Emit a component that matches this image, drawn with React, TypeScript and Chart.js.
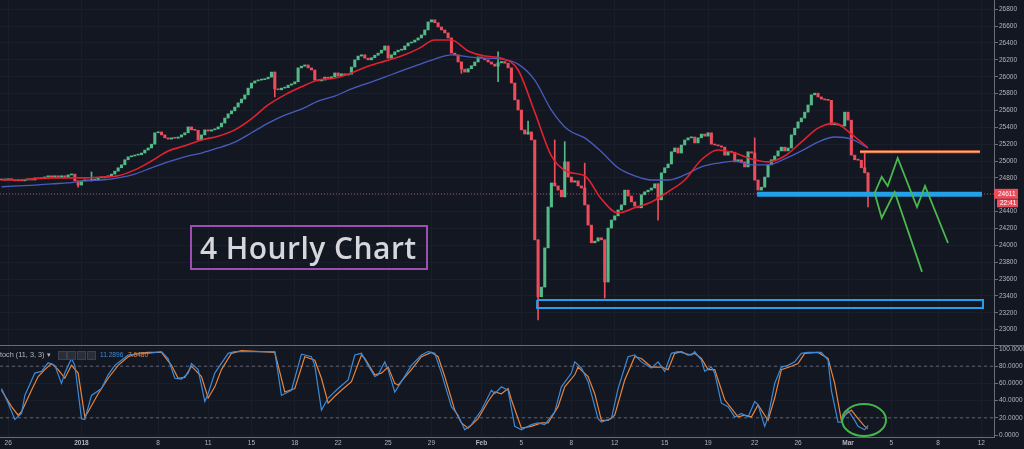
import React, { useEffect, useRef } from "react";
import { Chart, registerables } from "chart.js";

Chart.register(...registerables);

// ---------- style constants ----------
const BG = "#131722";
const GRID = "#1a1e2a";
const AXIS = "#6a6d78";
const TEXT = "#b2b5be";
const UP = "#53b987";
const DOWN = "#eb4d5c";
const FONT = '"Liberation Sans", Arial, sans-serif';

// ---------- axis ranges ----------
const X_MIN = -0.45;
const X_MAX = 297.8;
const PRICE_MIN = 22818;
const PRICE_MAX = 26910;
const STOCH_MIN = -2.9;
const STOCH_MAX = 104.65;

// ---------- data ----------
const firstOpen = 24780;
const closes = [
  24775, 24775, 24790, 24775, 24765, 24775, 24765, 24775, 24790, 24775,
  24800, 24790, 24800, 24810, 24825, 24810, 24825, 24810, 24825, 24810,
  24835, 24845, 24765, 24715, 24765, 24775, 24765, 24775, 24780, 24800,
  24800, 24810, 24825, 24845, 24880, 24920, 24955, 25015, 25050, 25060,
  25070, 25075, 25095, 25130, 25155, 25200, 25335, 25345, 25310, 25275,
  25260, 25275, 25270, 25285, 25310, 25335, 25405, 25370, 25365, 25250,
  25310, 25370, 25355, 25370, 25380, 25405, 25450, 25510, 25560, 25595,
  25640, 25690, 25735, 25785, 25865, 25925, 25950, 25960, 25965, 25975,
  25995, 26055, 25855, 25845, 25865, 25870, 25900, 25915, 25940, 26105,
  26125, 26140, 26105, 26080, 25960, 25950, 25960, 25995, 25975, 26000,
  26045, 26010, 26035, 26020, 26030, 26115, 26200, 26245, 26260, 26220,
  26200, 26225, 26255, 26280, 26315, 26365, 26220, 26260, 26295, 26315,
  26320, 26365, 26400, 26410, 26435, 26460, 26495, 26555, 26650, 26675,
  26640, 26590, 26555, 26520, 26460, 26280, 26260, 26175, 26090, 26055,
  26095, 26130, 26175, 26235, 26220, 26200, 26175, 26150, 26125, 26165,
  26180, 26160, 26105, 25925, 25725, 25605, 25370, 25320, 25345, 25250,
  24065, 23390, 23505, 23970, 24455, 24740, 24705, 24655, 24575, 24990,
  24810, 24750, 24765, 24705, 24680, 24480, 24240, 24030, 24050, 24090,
  24065, 23565, 24205, 24300, 24350, 24420, 24480, 24655, 24585, 24515,
  24465, 24445, 24600, 24635, 24655, 24680, 24730, 24540, 24860, 24920,
  24965, 25110, 25155, 25095, 25190, 25250, 25275, 25285, 25215, 25275,
  25320, 25295, 25335, 25200, 25190, 25180, 25165, 25070, 25110, 25105,
  24990, 25015, 24990, 24930, 25110, 25095, 24775, 24655, 24690, 24810,
  24955, 25015, 25060, 25120, 25165, 25120, 25155, 25310, 25390, 25465,
  25510, 25580, 25665, 25785, 25805, 25760, 25735, 25725, 25720, 25430,
  25440, 25425, 25415, 25580, 25485, 25070, 25015, 25010, 24920, 24860,
  24611,
];
// visible wicks that reach beyond the candle bodies
const wickIdx = [23, 27, 82, 138, 149, 158, 161, 166, 169, 175, 181, 197, 226, 259, 260];
const wickHi: (number | null)[] = [null, 24870, null, null, 26295, 25475, null, 25250, 25230, 24975, null, null, 25275, 25105, null];
const wickLo: (number | null)[] = [24690, null, 25760, 26040, 25940, null, 23115, null, null, null, 23375, 24300, null, null, 24455];

// moving averages, one value every EMA_STEP bars
const EMA_STEP = 5;
const emaFast = [
  24775, 24775, 24790, 24800, 24800, 24800, 24810, 24825, 24895, 25000,
  25120, 25180, 25250, 25295, 25370, 25500, 25665, 25785, 25880, 25960,
  25985, 26045, 26125, 26185, 26245, 26330, 26435, 26435, 26305, 26245,
  26220, 26080, 25580, 25060, 24870, 24825, 24550, 24385, 24445, 24515,
  24635, 24775, 25015, 25130, 25095, 25025, 24990, 25060, 25225, 25390,
  25450, 25320, 25155,
];
const emaSlow = [
  24695, 24705, 24715, 24730, 24740, 24765, 24775, 24800, 24845, 24920,
  24990, 25050, 25095, 25155, 25225, 25335, 25450, 25545, 25615, 25710,
  25770, 25855, 25925, 25995, 26070, 26140, 26210, 26260, 26235, 26220,
  26210, 26150, 25960, 25605, 25370, 25275, 25110, 24920, 24825, 24775,
  24775, 24835, 24930, 24975, 25000, 24955, 24955, 25025, 25120, 25225,
  25285, 25260, 25155,
];

const dateTickBars = [2, 24, 47, 62, 75, 88, 101, 116, 129, 144, 156, 171, 184, 199, 212, 226, 239, 254, 267, 281, 294];
const dateTickLabels = ["26", "2018", "8", "11", "15", "18", "22", "25", "29", "Feb", "5", "8", "12", "15", "19", "22", "26", "Mar", "5", "8", "12"];
const priceTicks = [23000, 23200, 23400, 23600, 23800, 24000, 24200, 24400, 24600, 24800, 25000, 25200, 25400, 25600, 25800, 26000, 26200, 26400, 26600, 26800];
const stochTicks = [0, 20, 40, 60, 80, 100];
const stochBands = [80, 20];

const kBars = [0, 2, 4, 6, 7, 10, 12, 14, 16, 18, 19, 21, 22, 24, 25, 27, 30, 32, 34, 36, 38, 42, 44, 48, 50, 52, 54, 56, 57, 59, 61, 62, 64, 68, 70, 76, 82, 84, 87, 90, 93, 94, 96, 98, 101, 104, 106, 108, 110, 112, 113, 115, 116, 118, 120, 123, 126, 128, 130, 132, 135, 137, 139, 141, 144, 147, 148, 150, 152, 154, 156, 159, 161, 163, 166, 168, 171, 172, 174, 176, 179, 180, 183, 185, 188, 190, 192, 195, 197, 199, 201, 203, 205, 207, 208, 210, 211, 213, 214, 216, 218, 220, 222, 224, 226, 227, 229, 230, 232, 234, 236, 238, 240, 242, 246, 248, 249, 251, 252, 254, 256, 257, 259, 260];
const kVals = [54, 37, 18, 25, 46, 72, 74, 84, 81, 60, 72, 89, 81, 19, 18, 46, 54, 70, 81, 87, 93, 95, 95, 97, 89, 66, 65, 72, 83, 76, 39, 48, 72, 95, 97, 97, 97, 46, 52, 94, 91, 81, 29, 43, 54, 64, 93, 95, 81, 68, 70, 85, 76, 50, 62, 81, 93, 97, 95, 72, 33, 23, 6, 12, 29, 52, 48, 56, 52, 10, 6, 12, 14, 12, 27, 56, 72, 85, 78, 62, 19, 15, 19, 54, 91, 93, 85, 78, 85, 74, 95, 97, 95, 93, 97, 87, 74, 79, 72, 37, 33, 21, 25, 21, 39, 35, 10, 21, 60, 79, 81, 85, 95, 96, 96, 87, 52, 15, 15, 29, 17, 10, 6, 11.29];
const dBars = [0, 3, 5, 6, 9, 11, 13, 15, 17, 19, 21, 23, 25, 26, 29, 32, 35, 38, 41, 44, 48, 51, 53, 55, 57, 60, 62, 64, 66, 69, 72, 82, 85, 88, 91, 94, 96, 98, 100, 102, 105, 108, 109, 112, 114, 116, 118, 119, 123, 126, 129, 131, 133, 136, 138, 140, 143, 146, 148, 150, 152, 153, 156, 159, 162, 164, 167, 169, 172, 173, 176, 178, 180, 182, 184, 187, 190, 192, 195, 198, 200, 202, 204, 206, 208, 210, 212, 214, 217, 219, 221, 223, 225, 227, 230, 232, 234, 237, 239, 241, 245, 248, 250, 252, 253, 255, 257, 259, 260];
const dVals = [52, 33, 23, 27, 52, 68, 76, 83, 76, 66, 81, 72, 21, 27, 48, 66, 81, 91, 95, 96, 96, 81, 66, 67, 80, 68, 43, 56, 76, 95, 98, 96, 50, 54, 91, 87, 66, 37, 45, 52, 62, 93, 89, 70, 72, 79, 60, 58, 76, 91, 96, 91, 68, 29, 14, 8, 19, 39, 50, 48, 54, 41, 8, 10, 14, 14, 33, 56, 70, 79, 68, 48, 17, 17, 23, 64, 91, 89, 79, 79, 76, 95, 97, 93, 95, 89, 76, 76, 41, 31, 21, 23, 21, 35, 17, 43, 76, 80, 83, 95, 96, 89, 60, 17, 23, 29, 19, 10, 7.648];

const lastPrice = 24611;
const countdown = "22:41";
const stochName = "toch (11, 3, 3) \u25BE";
const kLast = "11.2896";
const dLast = "7.6480";
const title = "4 Hourly Chart";

// drawings (in bar index / price units)
const resistanceBars = [257.6, 293.6];
const resistanceLevel = 25110;
const supportBars = [226.7, 294.2];
const supportLevel = 24605;
const zoneBars = [160.7, 294.5];
const zonePrices = [23352, 23257];
const pathABars = [262.0, 264.1, 265.9, 268.9, 274.7, 277.1, 284.0];
const pathAPrices = [24621, 24811, 24704, 25036, 24455, 24704, 24028];
const pathBBars = [262.0, 264.1, 268.0, 276.2];
const pathBPrices = [24621, 24325, 24633, 23685];
const circleBar = 258.8;
const circleValue = 17.4;
const circleHalfBars = 6.6;
const circleHalfValue = 18.6;

// ---------- helpers ----------
const pts = (xs: number[], ys: number[]) => xs.map((x, i) => ({ x, y: ys[i] }));

function lineDs(label: string, data: any[], color: string, width: number, extra: any = {}) {
  return {
    type: "line",
    label,
    data,
    borderColor: color,
    backgroundColor: color,
    borderWidth: width,
    pointRadius: 0,
    pointHoverRadius: 0,
    fill: false,
    tension: 0,
    order: 0,
    ...extra,
  };
}

function buildMainConfig() {
  const opens = closes.map((c, i) => (i === 0 ? firstOpen : closes[i - 1]));
  const bodyData = closes.map((c, i) => ({ x: i, y: [opens[i], c] }));
  const bodyColors = closes.map((c, i) => (c >= opens[i] ? UP : DOWN));
  const wickData = wickIdx.map((b, k) => {
    const o = opens[b];
    const c = closes[b];
    const hi = wickHi[k] ?? Math.max(o, c);
    const lo = wickLo[k] ?? Math.min(o, c);
    return { x: b, y: [lo, hi] };
  });
  const wickColors = wickIdx.map((b) => (closes[b] >= opens[b] ? UP : DOWN));
  const emaIdx = emaFast.map((_, k) => k * EMA_STEP);

  const priceTag = {
    id: "priceTag",
    afterDraw(chart: any) {
      const { ctx } = chart;
      const ys = chart.scales.y;
      const y = ys.getPixelForValue(lastPrice);
      const x0 = ys.left;
      ctx.save();
      ctx.fillStyle = DOWN;
      ctx.fillRect(x0, y - 5, 24, 10);
      ctx.fillRect(x0 + 3, y + 5.5, 21, 8);
      ctx.fillStyle = "#ffffff";
      ctx.font = `6.5px ${FONT}`;
      ctx.textBaseline = "middle";
      ctx.textAlign = "left";
      ctx.fillText(String(lastPrice), x0 + 4, y + 0.5);
      ctx.fillText(countdown, x0 + 6, y + 9.5);
      ctx.restore();
    },
  };

  return {
    type: "bar",
    data: {
      datasets: [
        lineDs("Last price", [{ x: X_MIN, y: lastPrice }, { x: X_MAX, y: lastPrice }], "rgba(235,77,92,0.8)", 1, { borderDash: [1, 2], order: 6 }),
        { type: "bar", label: "Wicks", data: wickData, backgroundColor: wickColors, barThickness: 1, grouped: false, borderWidth: 0, order: 5 },
        { type: "bar", label: "Candles", data: bodyData, backgroundColor: bodyColors, barThickness: 2.4, grouped: false, borderWidth: 0, minBarLength: 1, order: 4 },
        lineDs("EMA slow", pts(emaIdx, emaSlow), "#4a5bbd", 1.3, { cubicInterpolationMode: "monotone", order: 3 }),
        lineDs("EMA fast", pts(emaIdx, emaFast), "#e3212f", 1.6, { cubicInterpolationMode: "monotone", order: 2 }),
        lineDs("Zone", pts([zoneBars[0], zoneBars[1], zoneBars[1], zoneBars[0], zoneBars[0]], [zonePrices[0], zonePrices[0], zonePrices[1], zonePrices[1], zonePrices[0]]), "#23a0e8", 2, { order: 1 }),
        lineDs("Support", pts(supportBars, [supportLevel, supportLevel]), "#23a0e8", 5, { order: 1 }),
        lineDs("Resistance", pts(resistanceBars, [resistanceLevel, resistanceLevel]), "#dc6c3e", 3, { order: 1 }),
        lineDs("Resistance core", pts(resistanceBars, [resistanceLevel, resistanceLevel]), "#f4c3ab", 1, { order: 0 }),
        lineDs("Path A", pts(pathABars, pathAPrices), "#49b94e", 1.8, { order: 0 }),
        lineDs("Path B", pts(pathBBars, pathBPrices), "#49b94e", 1.8, { order: 0 }),
      ],
    },
    options: {
      animation: false,
      responsive: false,
      maintainAspectRatio: false,
      events: [],
      layout: { padding: 0 },
      plugins: { legend: { display: false }, tooltip: { enabled: false }, title: { display: false } },
      scales: {
        x: {
          type: "linear",
          min: X_MIN,
          max: X_MAX,
          bounds: "data",
          offset: false,
          grid: { color: GRID, drawTicks: false, offset: false },
          border: { display: false },
          ticks: { display: false },
          afterBuildTicks: (s: any) => {
            s.ticks = dateTickBars.map((v) => ({ value: v }));
          },
          afterFit: (s: any) => {
            s.height = 0;
            s.paddingLeft = 0;
            s.paddingRight = 0;
          },
        },
        y: {
          type: "linear",
          position: "right",
          min: PRICE_MIN,
          max: PRICE_MAX,
          bounds: "data",
          grid: { color: GRID, tickColor: AXIS, tickLength: 4 },
          border: { color: AXIS },
          ticks: {
            color: TEXT,
            font: { family: FONT, size: 6.5 },
            padding: 1,
            autoSkip: false,
            callback: (v: any) => String(v),
          },
          afterBuildTicks: (s: any) => {
            s.ticks = priceTicks.map((v) => ({ value: v }));
          },
          afterFit: (s: any) => {
            s.width = 30;
            s.paddingTop = 0;
            s.paddingBottom = 0;
          },
        },
      },
    },
    plugins: [priceTag],
  };
}

function buildStochConfig() {
  const decor = {
    id: "stochDecor",
    afterDraw(chart: any) {
      const { ctx, scales } = chart;
      const xs = scales.x;
      const ys = scales.y;
      ctx.save();
      ctx.strokeStyle = AXIS;
      ctx.lineWidth = 1;
      ctx.beginPath();
      ctx.moveTo(0, 0.5);
      ctx.lineTo(chart.width, 0.5);
      ctx.stroke();
      const cx = xs.getPixelForValue(circleBar);
      const cy = ys.getPixelForValue(circleValue);
      const rx = Math.abs(xs.getPixelForValue(circleBar + circleHalfBars) - cx);
      const ry = Math.abs(ys.getPixelForValue(circleValue + circleHalfValue) - cy);
      ctx.strokeStyle = "#43b64a";
      ctx.lineWidth = 2;
      ctx.beginPath();
      ctx.ellipse(cx, cy, rx, ry, 0, 0, Math.PI * 2);
      ctx.stroke();
      ctx.restore();
    },
  };

  const bandSets = stochBands.map((b) =>
    lineDs("Band " + b, [{ x: X_MIN, y: b }, { x: X_MAX, y: b }], "rgba(120,123,134,0.75)", 1, { borderDash: [3, 3], order: 3 })
  );

  return {
    type: "line",
    data: {
      datasets: [
        ...bandSets,
        lineDs("%D", pts(dBars, dVals), "#e8843c", 1.2, { order: 2 }),
        lineDs("%K", pts(kBars, kVals), "#3b8ad9", 1.2, { order: 1 }),
      ],
    },
    options: {
      animation: false,
      responsive: false,
      maintainAspectRatio: false,
      events: [],
      layout: { padding: 0 },
      plugins: { legend: { display: false }, tooltip: { enabled: false }, title: { display: false } },
      scales: {
        x: {
          type: "linear",
          min: X_MIN,
          max: X_MAX,
          bounds: "data",
          offset: false,
          grid: { color: GRID, drawTicks: false, offset: false },
          border: { color: AXIS },
          ticks: {
            color: TEXT,
            padding: 2,
            autoSkip: false,
            maxRotation: 0,
            font: (c: any) => {
              const lab = dateTickLabels[c.index] || "";
              const strong = isNaN(Number(lab)) || lab.length === 4;
              return { family: FONT, size: 6.5, weight: strong ? "bold" : "normal" };
            },
            callback: (_v: any, i: number) => dateTickLabels[i],
          },
          afterBuildTicks: (s: any) => {
            s.ticks = dateTickBars.map((v) => ({ value: v }));
          },
          afterFit: (s: any) => {
            s.height = 11.5;
            s.paddingLeft = 0;
            s.paddingRight = 0;
          },
        },
        y: {
          type: "linear",
          position: "right",
          min: STOCH_MIN,
          max: STOCH_MAX,
          bounds: "data",
          grid: { color: GRID, tickColor: AXIS, tickLength: 4 },
          border: { color: AXIS },
          ticks: {
            color: TEXT,
            font: { family: FONT, size: 6.5 },
            padding: 1,
            autoSkip: false,
            callback: (v: any) => Number(v).toFixed(4),
          },
          afterBuildTicks: (s: any) => {
            s.ticks = stochTicks.map((v) => ({ value: v }));
          },
          afterFit: (s: any) => {
            s.width = 30;
            s.paddingTop = 0;
            s.paddingBottom = 0;
          },
        },
      },
    },
    plugins: [decor],
  };
}

export default function App() {
  const mainRef = useRef<HTMLCanvasElement | null>(null);
  const stochRef = useRef<HTMLCanvasElement | null>(null);

  useEffect(() => {
    document.body.style.margin = "0";
    document.body.style.background = BG;
    Chart.defaults.font.family = FONT;
    const main = new Chart(mainRef.current as HTMLCanvasElement, buildMainConfig() as any);
    const stoch = new Chart(stochRef.current as HTMLCanvasElement, buildStochConfig() as any);
    return () => {
      main.destroy();
      stoch.destroy();
    };
  }, []);

  const iconStyle: React.CSSProperties = {
    position: "absolute",
    top: 351,
    width: 7,
    height: 7,
    background: "#2a2e39",
    border: "1px solid #3d414c",
  };

  return (
    <div style={{ position: "fixed", left: 0, top: 0, width: 1024, height: 449, background: BG, overflow: "hidden" }}>
      <canvas ref={mainRef} width={1024} height={345} style={{ position: "absolute", left: 0, top: 0, width: 1024, height: 345 }} />
      <canvas ref={stochRef} width={1024} height={104} style={{ position: "absolute", left: 0, top: 345, width: 1024, height: 104 }} />
      <div
        style={{
          position: "absolute",
          left: 190,
          top: 225,
          width: 238,
          height: 45,
          boxSizing: "border-box",
          border: "2px solid #9c4fb0",
          color: "#d6d7dc",
          fontFamily: '"Open Sans", sans-serif',
          fontWeight: 600,
          fontSize: 30,
          letterSpacing: 0.45,
          lineHeight: "41px",
          paddingLeft: 8,
          whiteSpace: "nowrap",
        }}
      >
        {title}
      </div>
      <div style={{ position: "absolute", left: 0, top: 350, fontFamily: FONT, fontSize: 7.3, color: TEXT, whiteSpace: "nowrap", lineHeight: "10px" }}>
        {stochName}
      </div>
      <div style={{ ...iconStyle, left: 58 }} />
      <div style={{ ...iconStyle, left: 67 }} />
      <div style={{ ...iconStyle, left: 77 }} />
      <div style={{ ...iconStyle, left: 87 }} />
      <div style={{ position: "absolute", left: 100, top: 350, fontFamily: FONT, fontSize: 6.6, color: "#3b8ad9", lineHeight: "10px", whiteSpace: "nowrap" }}>
        {kLast}
      </div>
      <div style={{ position: "absolute", left: 128, top: 350, fontFamily: FONT, fontSize: 6.6, color: "#e8843c", lineHeight: "10px", whiteSpace: "nowrap" }}>
        {dLast}
      </div>
    </div>
  );
}
